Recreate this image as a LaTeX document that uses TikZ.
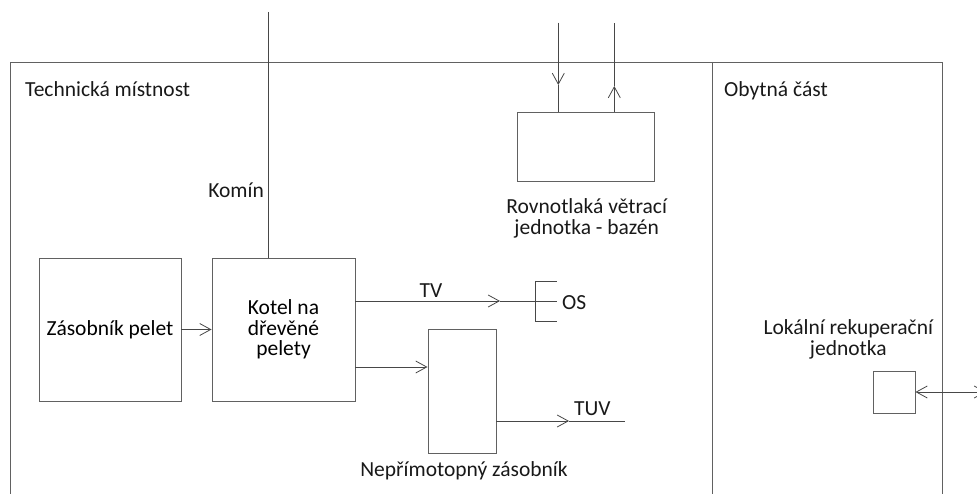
\documentclass[tikz,border=0pt]{standalone}
\usepackage{fontspec}
\setmainfont{Carlito}
\usetikzlibrary{arrows.meta}
\begin{document}
\begin{tikzpicture}[x=1pt,y=-1pt,
  font=\fontsize{21.5}{20.5}\selectfont,
  ln/.style={draw=black!72, line width=0.95pt},
  tip/.tip={Straight Barb[length=11pt,width=12pt,line width=0.8pt]},
  arr/.style={ln, -tip},
  box/.style={ln, draw=black!62, rectangle, inner sep=0pt, align=center},
  lbl/.style={inner sep=0pt, text=black!90, align=center}]
\useasboundingbox (0,0) rectangle (977,494);
% rooms
\coordinate (fbl) at (10,494);
\coordinate (ftl) at (10,62);
\coordinate (ftr) at (942,62);
\coordinate (fbr) at (942,494);
\coordinate (dt) at (712,62);
\coordinate (db) at (712,494);
\draw[ln, draw=black!62] (fbl) -- (ftl) -- (ftr) -- (fbr);
\draw[ln, draw=black!62] (dt) -- (db);
\node[lbl, anchor=base west] (tm) at (25,96.5) {Technická místnost};
\node[lbl, anchor=base west] (oc) at (724,96.5) {Obytná část};
% boxes
\node[box, minimum width=142pt, minimum height=143pt] (zas) at (110,329.5) {Zásobník pelet};
\node[box, minimum width=143pt, minimum height=143pt] (kot) at (283.5,329.5) {Kotel na\\dřevěné\\pelety};
\node[box, minimum width=68pt, minimum height=124pt] (tank) at (462,391) {};
\node[lbl, anchor=base] (tankl) at (464,476) {Nepřímotopný zásobník};
\node[box, minimum width=137pt, minimum height=69pt] (vent) at (586.3,147) {};
\node[lbl, anchor=base] (ventl) at (586.7,234.5) {Rovnotlaká větrací\\jednotka - bazén};
\node[box, minimum width=42pt, minimum height=42pt] (rek) at (894,392) {};
\node[lbl, anchor=base] (rekl) at (848.3,355) {Lokální rekuperační\\jednotka};
% chimney
\coordinate (kt) at (268,12);
\draw[ln] (kt) -- (kot.north -| kt);
\node[lbl, anchor=base east] (komin) at (264,197.3) {Komín};
% pellets to boiler
\draw[arr] (zas.east) -- (kot.west);
% TV to OS
\coordinate (tvs) at (kot.east |- 0,301);
\coordinate (tvm) at (500,301);
\coordinate (tve) at (556.7,301);
\draw[arr] (tvs) -- (tvm);
\draw[ln] (tvm) -- (tve);
\node[lbl, anchor=base] (tv) at (431,297.3) {TV};
\coordinate (osa) at (556.7,281);
\coordinate (osb) at (535,281);
\coordinate (osc) at (535,321.7);
\coordinate (osd) at (556.7,321.7);
\draw[ln] (osa) -- (osb) -- (osc) -- (osd);
\node[lbl, anchor=base west] (os) at (562,309.3) {OS};
% boiler to tank
\coordinate (kt2) at (kot.east |- 0,367);
\draw[arr] (kt2) -- (kt2 -| tank.west);
% TUV
\coordinate (tus) at (tank.east |- 0,421);
\coordinate (tum) at (569,421);
\coordinate (tue) at (625,421);
\draw[arr] (tus) -- (tum);
\draw[ln] (tum) -- (tue);
\node[lbl, anchor=base west] (tuv) at (574,415.5) {TUV};
% ventilation
\coordinate (v1t) at (558.3,22.7);
\coordinate (v1m) at (558.3,85);
\coordinate (v2t) at (614.3,22.7);
\coordinate (v2m) at (614.3,86);
\draw[arr] (v1t) -- (v1m);
\draw[ln] (v1m) -- (vent.north -| v1m);
\draw[arr] (vent.north -| v2m) -- (v2m);
\draw[ln] (v2m) -- (v2t);
% recuperation
\coordinate (rke) at (986,392);
\draw[ln, tip-tip] (rek.east) -- (rke);
\end{tikzpicture}
\end{document}
